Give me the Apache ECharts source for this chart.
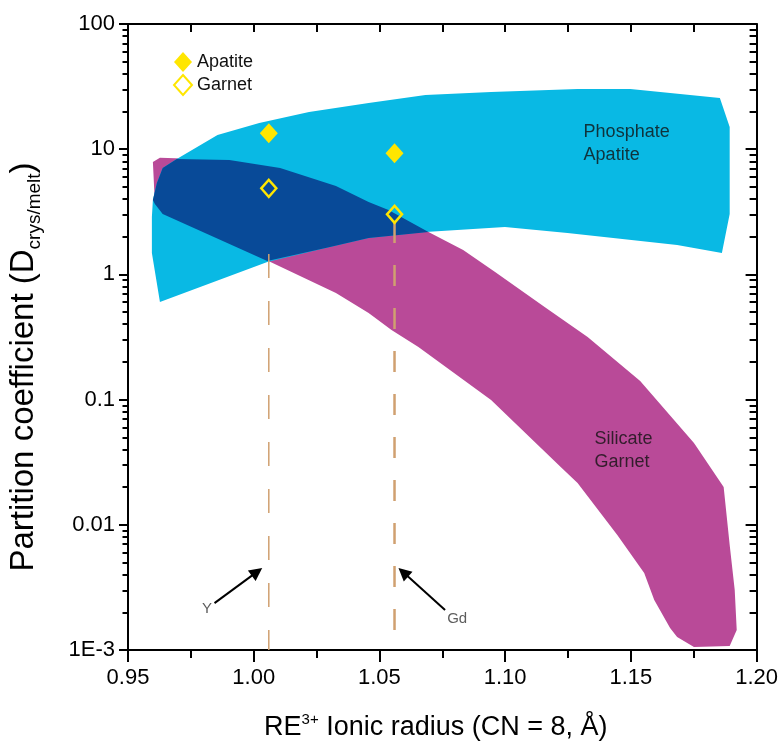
<!DOCTYPE html>
<html><head><meta charset="utf-8">
<script src="https://cdn.jsdelivr.net/npm/echarts@6/dist/echarts.min.js"></script>
<style>html,body{margin:0;padding:0;background:#fff}#c{width:781px;height:749px}</style>
</head><body><div id="c"></div>
<script>
// ---- data ----
const xTickLabels = ['0.95','1.00','1.05','1.10','1.15','1.20'];
const yTickLabels = ['1E-3','0.01','0.1','1','10','100'];
const legendNames = ['Apatite','Garnet'];
const ionNames = ['Y','Gd'];
const ionRadius = [1.006, 1.056];
const apatiteD = [13.4, 9.28];
const garnetD = [4.87, 3.02];
const dashTopD = [1.455, 2.62];
const phosphateBand = [
  [0.9595,2.87],[0.9599,3.93],[0.9615,5.37],[0.9638,7.08],[0.9694,8.35],[0.9856,12.98],
  [1.0022,16.19],[1.0220,19.83],[1.0457,23.39],[1.0683,27.1],[1.0944,28.6],[1.1288,30.3],
  [1.1498,30.3],[1.1854,25.6],[1.1893,15.04],[1.1893,3.04],[1.1862,1.48],[1.1684,1.72],
  [1.1248,2.14],[1.0999,2.39],[1.0683,2.18],[1.0457,1.95],[1.0299,1.65],[1.0054,1.256],
  [0.9627,0.602],[0.9595,1.48]
];
const silicateBand = [
  [0.9599,7.90],[0.9627,8.55],[0.9903,8.20],[1.0105,7.08],[1.0327,5.08],[1.0457,3.79],
  [1.0536,3.27],[1.0695,2.18],[1.0833,1.566],[1.0960,1.045],[1.1157,0.549],[1.1328,0.316],
  [1.1537,0.1408],[1.1751,0.045],[1.1869,0.02004],[1.1893,0.0069],[1.1913,0.003014],
  [1.1921,0.001444],[1.1893,0.001076],[1.1751,0.001057],[1.1684,0.00127],[1.1656,0.0015],
  [1.1593,0.002507],[1.1553,0.00412],[1.1446,0.00829],[1.1288,0.0216],[1.1221,0.02896],
  [1.0944,0.0993],[1.0655,0.263],[1.0548,0.36],[1.0457,0.4917],[1.0327,0.71],[1.0050,1.303],
  [0.9638,3.04],[0.9607,3.65]
];
const overlapBand = [
  [0.9599,3.93],[0.9615,5.37],[0.9638,7.08],[0.9694,8.35],[0.9903,8.20],[1.0105,7.08],
  [1.0327,5.08],[1.0457,3.79],[1.0536,3.27],[1.0695,2.18],[1.0457,1.95],[1.0299,1.65],
  [1.0054,1.28],[0.9638,3.04],[0.9607,3.65]
];
const bandLabels = ['Phosphate\nApatite','Silicate\nGarnet'];
const bandLabelPos = [[1.1312,11.0],[1.1355,0.0389]];
const ionLabelPos = [[0.9814,0.00215],[1.0809,0.00177]];
const arrowTails = [[0.9844,0.00237],[1.0761,0.00209]];
const arrowTips = [[1.0013,0.00421],[1.0595,0.004175]];
const yMinorTicks = [];
for (let e = -3; e < 2; e++) for (let m = 2; m <= 9; m++) yMinorTicks.push(+(m * Math.pow(10, e)).toPrecision(3));

// ---- styles ----
const CYAN = '#09B9E4', MAGENTA = '#B94A98', DARK = '#084A98', YELLOW = '#FFE600', TAN = '#D0A070';
const SANS = "'Liberation Sans', Arial, sans-serif";
const axisLineStyle = {color:'#000', width:2};
const tickStyle = {color:'#000', width:2};

function bandSeries(pts, color, z) {
  return {
    type:'custom', coordinateSystem:'cartesian2d', xAxisIndex:0, yAxisIndex:0, z:z, silent:true,
    data: pts, encode:{x:0, y:1},
    renderItem: function (params, api) {
      if (params.dataIndex !== 0) return null;
      return {type:'polygon', shape:{points: pts.map(p => api.coord(p))}, style:{fill:color}};
    }
  };
}

const yLogAxisBase = {type:'log', logBase:10, min:0.001, max:100, splitLine:{show:false}, minorSplitLine:{show:false}};

const option = {
  animation:false,
  backgroundColor:'#fff',
  textStyle:{fontFamily:SANS},
  grid:{left:128, right:21, top:24, bottom:99, containLabel:false},
  legend:{
    data: legendNames, orient:'vertical', left:168, top:47, itemWidth:18, itemHeight:20, itemGap:2,
    selectedMode:false, textStyle:{fontSize:18, color:'#111', fontFamily:SANS}
  },
  xAxis:[
    {type:'value', position:'bottom', min:0.95, max:1.2, interval:0.05,
     axisLine:{onZero:false, lineStyle:axisLineStyle},
     axisTick:{length:12, lineStyle:tickStyle},
     minorTick:{show:true, splitNumber:2, length:8, lineStyle:tickStyle},
     splitLine:{show:false}, minorSplitLine:{show:false},
     axisLabel:{formatter: v => xTickLabels[Math.round((v - 0.95) / 0.05)], fontSize:22, fontFamily:SANS, color:'#000', margin:17},
     name:'{a|RE}{s|3+}{a| Ionic radius (CN = 8, Å)}', nameLocation:'middle', nameGap:62,
     nameTextStyle:{padding:[0,13,0,0], rich:{
       a:{fontSize:27, fontFamily:SANS, color:'#000', lineHeight:32},
       s:{fontSize:15, fontFamily:SANS, color:'#000', lineHeight:15, verticalAlign:'top'}
     }}
    },
    {type:'value', position:'top', min:0.95, max:1.2, interval:0.025,
     axisLine:{onZero:false, lineStyle:axisLineStyle},
     axisTick:{inside:true, length:8, lineStyle:tickStyle},
     axisLabel:{show:false}, splitLine:{show:false}
    }
  ],
  yAxis:[
    Object.assign({}, yLogAxisBase, {position:'left',
      axisLine:{show:true, onZero:false, lineStyle:axisLineStyle},
      axisTick:{length:9, lineStyle:tickStyle},
      axisLabel:{formatter: v => yTickLabels[Math.round(Math.log10(v)) + 3], fontSize:22, fontFamily:SANS, color:'#000', margin:13}
    }),
    Object.assign({}, yLogAxisBase, {position:'right',
      axisLine:{show:true, onZero:false, lineStyle:axisLineStyle},
      axisTick:{inside:true, length:11, lineStyle:tickStyle},
      axisLabel:{show:false}
    }),
    Object.assign({}, yLogAxisBase, {position:'left',
      axisLine:{show:false}, axisTick:{length:5.5, lineStyle:tickStyle, customValues:yMinorTicks},
      axisLabel:{show:false}
    }),
    Object.assign({}, yLogAxisBase, {position:'right',
      axisLine:{show:false}, axisTick:{inside:true, length:7, lineStyle:tickStyle, customValues:yMinorTicks},
      axisLabel:{show:false}
    })
  ],
  graphic:[{
    type:'text', x:24, y:367, rotation:Math.PI/2, silent:true,
    style:{
      text:'{a|Partition coefficient (D}{b|crys/melt}{a|)}',
      align:'center', verticalAlign:'middle',
      rich:{
        a:{fontSize:33, fontFamily:SANS, fill:'#000', lineHeight:40},
        b:{fontSize:19, fontFamily:SANS, fill:'#000', lineHeight:19, verticalAlign:'bottom'}
      }
    }
  }],
  series:[
    bandSeries(silicateBand, MAGENTA, 1),
    bandSeries(phosphateBand, CYAN, 2),
    bandSeries(overlapBand, DARK, 3),
    {type:'line', xAxisIndex:0, yAxisIndex:0, z:4, silent:true, showSymbol:false, symbol:'none',
     data:[[ionRadius[0], dashTopD[0]],[ionRadius[0], 0.001]],
     lineStyle:{color:TAN, width:1.5, type:[24,23]}},
    {type:'line', xAxisIndex:0, yAxisIndex:0, z:4, silent:true, showSymbol:false, symbol:'none',
     data:[[ionRadius[1], dashTopD[1]],[ionRadius[1], 0.001]],
     lineStyle:{color:TAN, width:2.5, type:[21,22]}},
    {type:'scatter', name:legendNames[0], xAxisIndex:0, yAxisIndex:0, z:10, symbol:'diamond', symbolSize:[18,20],
     data: ionRadius.map((x, i) => [x, apatiteD[i]]), itemStyle:{color:YELLOW, opacity:1}},
    {type:'scatter', name:legendNames[1], xAxisIndex:0, yAxisIndex:0, z:10, symbol:'diamond', symbolSize:[15,17],
     data: ionRadius.map((x, i) => [x, garnetD[i]]), itemStyle:{color:'rgba(0,0,0,0)', borderColor:YELLOW, borderWidth:2.5, opacity:1}},
    {type:'scatter', xAxisIndex:0, yAxisIndex:0, z:12, silent:true, symbolSize:0,
     data: bandLabelPos.map((p, i) => ({value:p, label:{formatter:bandLabels[i]}})),
     label:{show:true, position:'right', distance:0, fontSize:18, lineHeight:23, color:'#111', fontFamily:SANS}},
    {type:'scatter', xAxisIndex:0, yAxisIndex:0, z:12, silent:true, symbolSize:0,
     data: ionLabelPos.map((p, i) => ({value:p, label:{formatter:ionNames[i]}})),
     label:{show:true, position:'inside', fontSize:15, color:'#333', fontFamily:SANS},
     markLine:{silent:true, symbol:['none','triangle'], symbolSize:13, animation:false,
       lineStyle:{color:'#000', width:2, type:'solid'}, itemStyle:{color:'#000'}, label:{show:false}, emphasis:{disabled:true},
       data: arrowTails.map((t, i) => [{coord:t}, {coord:arrowTips[i]}])}
    }
  ]
};
const chart = echarts.init(document.getElementById('c'));
chart.setOption(option);
</script>
</body></html>
